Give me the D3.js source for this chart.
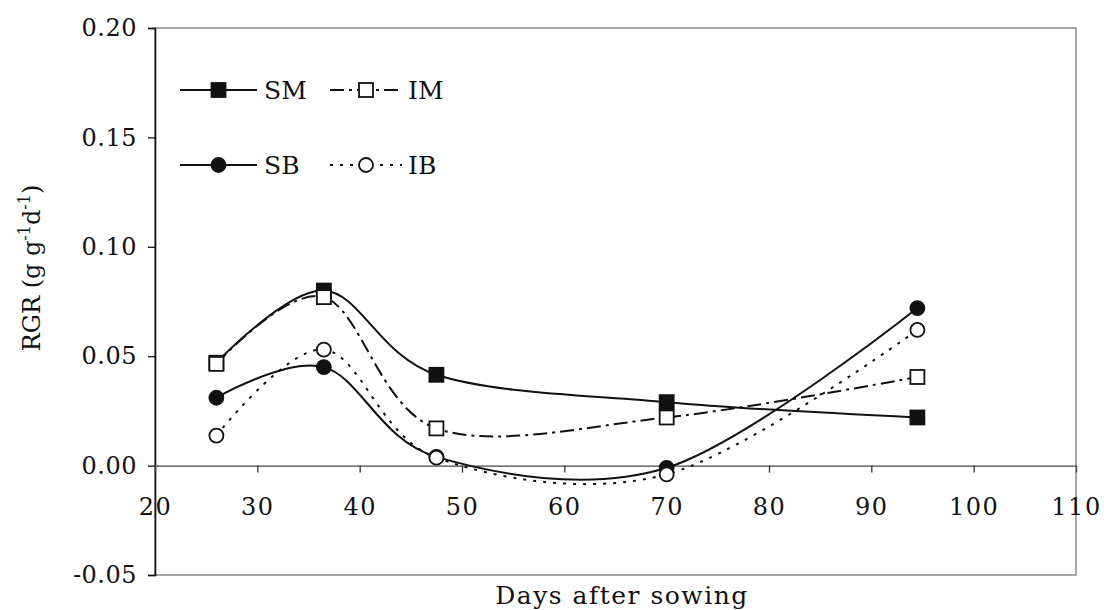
<!DOCTYPE html>
<html>
<head>
<meta charset="utf-8">
<script src="https://cdn.jsdelivr.net/npm/d3@7"></script>
<style>
body { margin: 0; background: #fff; }
text { fill: #111; }
</style>
</head>
<body>
<svg id="chart"></svg>
<script>
// days after sowing for each sampling
const days = [26, 36.5, 47.5, 70, 94.5];

// RGR values (g g-1 d-1)
const SM = [0.047, 0.080, 0.0415, 0.029, 0.022];
const IM = [0.0465, 0.077, 0.017, 0.022, 0.0405];
const SB = [0.031, 0.045, 0.004, -0.001, 0.072];
const IB = [0.0137, 0.053, 0.0036, -0.004, 0.062];

const xTicks = [20, 30, 40, 50, 60, 70, 80, 90, 100, 110];
const yTicks = [-0.05, 0, 0.05, 0.10, 0.15, 0.20];

const W = 1104, H = 610;
const box = {left: 155, right: 1076, top: 28, bottom: 575};

const svg = d3.select("#chart")
  .attr("width", W)
  .attr("height", H);

const x = d3.scaleLinear().domain([20, 110]).range([box.left, box.right]);
const y = d3.scaleLinear().domain([-0.05, 0.20]).range([box.bottom, box.top]);

// frame (scanned look: light grey on top/right/bottom)
svg.append("rect")
  .attr("x", box.left).attr("y", box.top)
  .attr("width", box.right - box.left).attr("height", box.bottom - box.top)
  .attr("fill", "none")
  .attr("stroke", "#777")
  .attr("stroke-width", 1.3);

// y axis
const yAxis = svg.append("g")
  .attr("transform", `translate(${box.left},0)`)
  .call(d3.axisLeft(y).tickValues(yTicks).tickSize(7).tickPadding(11)
    .tickFormat(d => d.toFixed(2)));
yAxis.select(".domain").attr("stroke", "#111").attr("stroke-width", 1.6);
yAxis.selectAll(".tick line").attr("stroke", "#111").attr("stroke-width", 1.3);
yAxis.selectAll("text")
  .attr("font-family", "DejaVu Serif")
  .attr("font-size", 24)
  .attr("letter-spacing", 0.5)
  .attr("fill", "#111");

// x axis along zero
const xAxis = svg.append("g")
  .attr("transform", `translate(0,${y(0)})`)
  .call(d3.axisBottom(x).tickValues(xTicks).tickSize(7).tickPadding(25));
xAxis.select(".domain").attr("stroke", "#444").attr("stroke-width", 1.4);
xAxis.selectAll(".tick line").attr("stroke", "#333").attr("stroke-width", 1.3);
xAxis.selectAll(".tick").filter(d => d === 20 || d === 110).select("line").remove();
xAxis.selectAll("text")
  .attr("font-family", "DejaVu Serif")
  .attr("font-size", 24)
  .attr("letter-spacing", 1.5)
  .attr("fill", "#111");

// axis titles
svg.append("text")
  .attr("x", 622).attr("y", 604)
  .attr("text-anchor", "middle")
  .attr("font-family", "DejaVu Serif")
  .attr("font-size", 25)
  .attr("letter-spacing", 1.5)
  .text("Days after sowing");

const yt = svg.append("text")
  .attr("transform", `translate(40,268) rotate(-90)`)
  .attr("text-anchor", "middle")
  .attr("font-family", "DejaVu Serif")
  .attr("font-size", 24);
yt.append("tspan").text("RGR (g g");
yt.append("tspan").attr("dy", -10).attr("font-size", 16).text("-1");
yt.append("tspan").attr("dy", 10).text("d");
yt.append("tspan").attr("dy", -10).attr("font-size", 16).text("-1");
yt.append("tspan").attr("dy", 10).text(")");

// series
const series = [
  {name: "SM", values: SM, dash: null, shape: "square", fill: "#111"},
  {name: "IM", values: IM, dash: "14,5,3,5", shape: "square", fill: "#fff"},
  {name: "SB", values: SB, dash: null, shape: "circle", fill: "#111"},
  {name: "IB", values: IB, dash: "3,7", shape: "circle", fill: "#fff"}
];

const line = d3.line()
  .x(d => x(d[0]))
  .y(d => y(d[1]))
  .curve(d3.curveCardinal.tension(0));

series.forEach(s => {
  svg.append("path")
    .datum(days.map((d, i) => [d, s.values[i]]))
    .attr("fill", "none")
    .attr("stroke", "#111")
    .attr("stroke-width", 2)
    .attr("stroke-dasharray", s.dash)
    .attr("d", line);
});

function marker(g, shape, cx, cy, fill) {
  if (shape === "square") {
    g.append("rect")
      .attr("x", cx - 7).attr("y", cy - 7)
      .attr("width", 14).attr("height", 14)
      .attr("fill", fill).attr("stroke", "#111").attr("stroke-width", 1.8);
  } else {
    g.append("circle")
      .attr("cx", cx).attr("cy", cy).attr("r", 7)
      .attr("fill", fill).attr("stroke", "#111").attr("stroke-width", 1.8);
  }
}

series.forEach(s => {
  const g = svg.append("g");
  days.forEach((d, i) => marker(g, s.shape, x(d), y(s.values[i]), s.fill));
});

// legend
const legendRows = [
  [series[0], series[1]],
  [series[2], series[3]]
];
const legY = [90, 165];
legendRows.forEach((row, r) => {
  const ly = legY[r];
  const cols = [{x0: 180, x1: 257, tx: 264}, {x0: 330, x1: 402, tx: 408}];
  row.forEach((s, c) => {
    const col = cols[c];
    svg.append("line")
      .attr("x1", col.x0).attr("x2", col.x1)
      .attr("y1", ly).attr("y2", ly)
      .attr("stroke", "#111").attr("stroke-width", 2)
      .attr("stroke-dasharray", s.dash);
    marker(svg, s.shape, (col.x0 + col.x1) / 2, ly, s.fill);
    svg.append("text")
      .attr("x", col.tx).attr("y", ly + 9)
      .attr("font-family", "DejaVu Serif")
      .attr("font-size", 25)
      .text(s.name);
  });
});
</script>
</body>
</html>
